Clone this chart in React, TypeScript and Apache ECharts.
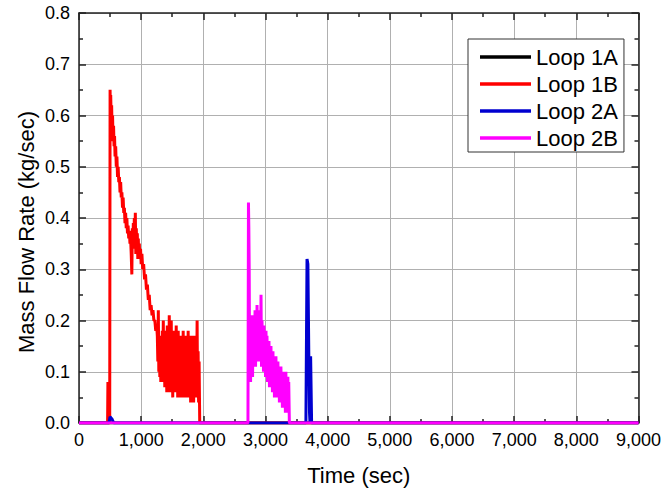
import React, { useEffect, useRef } from "react";
import * as echarts from "echarts";

const seriesNames = ["Loop 1A", "Loop 1B", "Loop 2A", "Loop 2B"];
const seriesColors = ["#000000", "#ff0000", "#0000d0", "#ff00ff"];
const xTitle = "Time (sec)";
const yTitle = "Mass Flow Rate (kg/sec)";

const loop1A: number[][] = [[0, 0], [9000, 0]];

const loop1B: number[][] = [
  [0, 0], [460, 0], [465, 0.08], [470, 0], [494, 0], [500, 0.65], [505, 0.6], [510, 0.64],
  [518, 0.59], [525, 0.62], [532, 0.57], [540, 0.6], [548, 0.55], [556, 0.58], [564, 0.54],
  [572, 0.56], [580, 0.52], [590, 0.54], [600, 0.5], [610, 0.52], [620, 0.48], [630, 0.5],
  [640, 0.47], [650, 0.48], [660, 0.45], [670, 0.47], [680, 0.44], [690, 0.45], [700, 0.42],
  [710, 0.44], [720, 0.41], [730, 0.42], [740, 0.39], [750, 0.41], [760, 0.38], [770, 0.4],
  [780, 0.37], [790, 0.385], [800, 0.36], [810, 0.375], [820, 0.35], [830, 0.36], [840, 0.33],
  [850, 0.29], [858, 0.38], [866, 0.34], [874, 0.39], [882, 0.35], [890, 0.4], [898, 0.34],
  [906, 0.41], [914, 0.33], [922, 0.38], [930, 0.33], [938, 0.37], [946, 0.32], [954, 0.36],
  [962, 0.32], [970, 0.35], [980, 0.32], [990, 0.34], [1000, 0.31], [1012, 0.33],
  [1025, 0.3], [1040, 0.31], [1055, 0.28], [1070, 0.29], [1085, 0.26], [1100, 0.27],
  [1115, 0.24], [1130, 0.25], [1145, 0.22], [1160, 0.23], [1175, 0.21], [1190, 0.22],
  [1205, 0.2], [1220, 0.2], [1235, 0.18], [1250, 0.19], [1260, 0.17],
  [1268, 0.12], [1276, 0.22], [1284, 0.1], [1292, 0.17], [1300, 0.09], [1308, 0.16],
  [1316, 0.08], [1324, 0.17], [1332, 0.1], [1340, 0.18], [1348, 0.09], [1356, 0.2],
  [1364, 0.08], [1372, 0.16], [1380, 0.07], [1388, 0.18], [1396, 0.09], [1404, 0.17],
  [1412, 0.06], [1420, 0.19], [1428, 0.08], [1436, 0.17], [1444, 0.07], [1452, 0.21],
  [1460, 0.06], [1468, 0.18], [1476, 0.08], [1484, 0.2], [1492, 0.07], [1500, 0.17],
  [1508, 0.05], [1516, 0.18], [1524, 0.07], [1532, 0.16], [1540, 0.06], [1548, 0.17],
  [1556, 0.08], [1564, 0.19], [1572, 0.06], [1580, 0.17], [1588, 0.05], [1596, 0.18],
  [1604, 0.07], [1612, 0.16], [1620, 0.06], [1628, 0.17], [1636, 0.05], [1644, 0.16],
  [1652, 0.07], [1660, 0.17], [1668, 0.05], [1676, 0.18], [1684, 0.06], [1692, 0.17],
  [1700, 0.05], [1708, 0.16], [1716, 0.07], [1724, 0.17], [1732, 0.05], [1740, 0.16],
  [1748, 0.06], [1756, 0.18], [1764, 0.05], [1772, 0.17], [1780, 0.06], [1788, 0.16],
  [1796, 0.04], [1804, 0.17], [1812, 0.06], [1820, 0.15], [1828, 0.05], [1836, 0.17],
  [1844, 0.04], [1852, 0.16], [1860, 0.06], [1868, 0.15], [1876, 0.05], [1884, 0.17],
  [1892, 0.06], [1900, 0.2], [1908, 0.05], [1916, 0.14], [1924, 0.04], [1932, 0.12],
  [1942, 0], [9000, 0],
];

const loop2A: number[][] = [
  [0, 0], [480, 0], [500, 0.012], [530, 0.008], [560, 0], [3650, 0], [3668, 0.32],
  [3682, 0.31], [3698, 0.12], [3708, 0.02], [3716, 0], [3726, 0.13], [3742, 0], [9000, 0],
];

const loop2B: number[][] = [
  [0, 0], [2718, 0], [2726, 0.43], [2732, 0.38], [2738, 0.3], [2744, 0.1], [2752, 0.2],
  [2760, 0.08], [2768, 0.19], [2776, 0.1], [2784, 0.21], [2792, 0.09], [2800, 0.18],
  [2808, 0.11], [2816, 0.2], [2824, 0.12], [2832, 0.22], [2840, 0.11], [2848, 0.2],
  [2856, 0.13], [2864, 0.23], [2872, 0.12], [2880, 0.21], [2888, 0.14], [2896, 0.22],
  [2904, 0.13], [2912, 0.21], [2920, 0.12], [2928, 0.25], [2936, 0.11], [2944, 0.2],
  [2952, 0.12], [2960, 0.19], [2968, 0.1], [2976, 0.19], [2984, 0.11], [2992, 0.18],
  [3000, 0.09], [3008, 0.18], [3016, 0.1], [3024, 0.17], [3032, 0.08], [3040, 0.16],
  [3048, 0.09], [3056, 0.16], [3064, 0.07], [3072, 0.15], [3080, 0.08], [3088, 0.15],
  [3096, 0.07], [3104, 0.14], [3112, 0.06], [3120, 0.14], [3128, 0.07], [3136, 0.13],
  [3144, 0.05], [3152, 0.13], [3160, 0.06], [3168, 0.13], [3176, 0.05], [3184, 0.12],
  [3192, 0.05], [3200, 0.12], [3208, 0.05], [3216, 0.11], [3224, 0.04], [3232, 0.11],
  [3240, 0.04], [3248, 0.11], [3256, 0.04], [3264, 0.1], [3272, 0.03], [3280, 0.1],
  [3288, 0.03], [3296, 0.1], [3304, 0.03], [3312, 0.1], [3320, 0.02], [3328, 0.1],
  [3336, 0.02], [3344, 0.09], [3352, 0.02], [3360, 0.09], [3368, 0.02], [3374, 0.08],
  [3384, 0], [9000, 0],
];

const seriesData = [loop1A, loop1B, loop2A, loop2B];

const xMin = 0, xMax = 9000, xInterval = 1000;
const yMin = 0, yMax = 0.8, yInterval = 0.1;

const FONT = "Liberation Sans, Arial, sans-serif";

export default function App() {
  const ref = useRef<HTMLDivElement>(null);
  useEffect(() => {
    if (!ref.current) return;
    const chart = echarts.init(ref.current, null, { renderer: "svg" });
    const axisLine = { show: true, onZero: false, lineStyle: { color: "#222", width: 1.5 } };
    const tick = { show: true, inside: true, length: 7, lineStyle: { color: "#222", width: 1.5 } };
    const minor = { show: true, splitNumber: 2, length: 4, lineStyle: { color: "#222", width: 1.5 } };
    chart.setOption({
      animation: false,
      backgroundColor: "#ffffff",
      grid: { left: 79, right: 24, top: 13, bottom: 64, containLabel: false },
      legend: {
        data: seriesNames,
        orient: "vertical",
        left: 468,
        top: 39,
        icon: "rect",
        itemWidth: 51,
        itemHeight: 3.5,
        itemGap: 5,
        padding: [7, 6, 3, 12],
        borderColor: "#333",
        borderWidth: 1,
        backgroundColor: "#fff",
        textStyle: { fontFamily: FONT, fontSize: 22, color: "#000", lineHeight: 22 },
      },
      graphic: [
        {
          type: "text",
          x: 26,
          y: 232,
          rotation: Math.PI / 2,
          style: {
            text: yTitle,
            font: `22px ${FONT}`,
            fill: "#000",
            textAlign: "center",
            textVerticalAlign: "middle",
          },
        },
      ],
      xAxis: [
        {
          type: "value", position: "bottom", min: xMin, max: xMax, interval: xInterval,
          name: xTitle, nameLocation: "middle", nameGap: 41,
          nameTextStyle: { fontFamily: FONT, fontSize: 22, color: "#000" },
          axisLine, axisTick: tick, minorTick: minor,
          splitLine: { show: true, lineStyle: { color: "#b0b0b0", width: 1 } },
          axisLabel: {
            fontFamily: FONT, fontSize: 18, color: "#000", margin: 8,
            formatter: (v: number) => v.toLocaleString("en-US"),
          },
        },
        {
          type: "value", position: "top", min: xMin, max: xMax, interval: xInterval,
          axisLine, axisTick: tick, minorTick: minor,
          splitLine: { show: false }, axisLabel: { show: false },
        },
      ],
      yAxis: [
        {
          type: "value", position: "left", min: yMin, max: yMax, interval: yInterval,
          axisLine, axisTick: tick, minorTick: minor,
          splitLine: { show: true, lineStyle: { color: "#b0b0b0", width: 1 } },
          axisLabel: {
            fontFamily: FONT, fontSize: 18, color: "#000", margin: 9,
            formatter: (v: number) => v.toFixed(1),
          },
        },
        {
          type: "value", position: "right", min: yMin, max: yMax, interval: yInterval,
          axisLine, axisTick: tick, minorTick: minor,
          splitLine: { show: false }, axisLabel: { show: false },
        },
      ],
      series: seriesNames.map((name, i) => ({
        name,
        type: "line",
        xAxisIndex: 0,
        yAxisIndex: 0,
        data: seriesData[i],
        showSymbol: false,
        symbol: "none",
        color: seriesColors[i],
        lineStyle: { color: seriesColors[i], width: 3 },
        itemStyle: { color: seriesColors[i] },
        z: 2 + i,
      })),
    });
    return () => chart.dispose();
  }, []);
  return <div ref={ref} style={{ width: 664, height: 491, position: "absolute", left: 0, top: 0 }} />;
}
